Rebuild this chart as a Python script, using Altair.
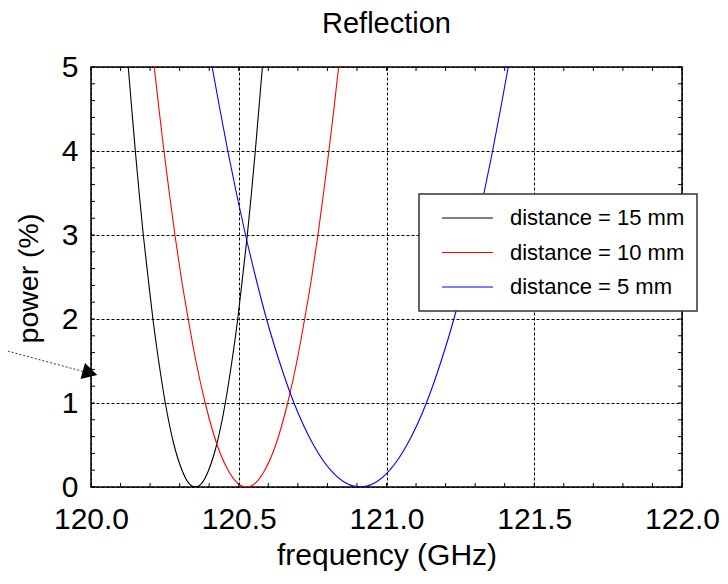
import altair as alt
import pandas as pd

FONT = "Liberation Sans"

# power levels (%), left branch -> minimum -> right branch
power = [5, 4.5, 4, 3.5, 3, 2.5, 2, 1.5, 1, 0.5, 0.2, 0.05, 0,
         0.05, 0.2, 0.5, 1, 1.5, 2, 2.5, 3, 3.5, 4, 4.5, 5]

freq_15mm = [120.126, 120.138, 120.150, 120.163, 120.177, 120.193, 120.2095, 120.229, 120.2515,
             120.281, 120.308, 120.330, 120.353,
             120.376, 120.398, 120.425, 120.4545, 120.477, 120.4965, 120.513, 120.529,
             120.543, 120.556, 120.568, 120.580]
freq_10mm = [120.214, 120.230, 120.247, 120.265, 120.284, 120.305, 120.329, 120.355, 120.3865,
             120.427, 120.464, 120.495, 120.526,
             120.557, 120.588, 120.625, 120.6655, 120.697, 120.723, 120.747, 120.768,
             120.787, 120.805, 120.822, 120.838]
freq_5mm = [120.410, 120.436, 120.463, 120.492, 120.523, 120.557, 120.594, 120.637, 120.687,
            120.753, 120.811, 120.861, 120.911,
            120.961, 121.011, 121.069, 121.135, 121.185, 121.228, 121.265, 121.299,
            121.330, 121.359, 121.386, 121.412]

series_names = ["distance = 15 mm", "distance = 10 mm", "distance = 5 mm"]
series_colors = ["#000000", "#ff0000", "#0000ff"]
series_freqs = [freq_15mm, freq_10mm, freq_5mm]

x_ticks = [120.0, 120.5, 121.0, 121.5, 122.0]
y_ticks = [0, 1, 2, 3, 4, 5]
x_minor = [round(120.0 + 0.1 * i, 1) for i in range(21)]
y_minor = [round(0.2 * i, 1) for i in range(26)]

rows = []
for name, fr in zip(series_names, series_freqs):
    for f, p in zip(fr, power):
        rows.append({"freq": f, "power": p, "series": name})
df = pd.DataFrame(rows)

W, H = 591, 420
xscale = alt.Scale(domain=[120, 122], nice=False, zero=False)
yscale = alt.Scale(domain=[0, 5], nice=False)

curves = alt.Chart(df).mark_line(interpolate="monotone", strokeWidth=1.1, clip=True).encode(
    x=alt.X("freq:Q", scale=xscale,
            axis=alt.Axis(values=x_ticks, format=".1f", title="frequency (GHz)",
                          grid=True, gridDash=[3, 2], gridColor="#000000", gridWidth=1,
                          ticks=False, domain=False, labelFlush=False, labelOverlap=False,
                          labelFontSize=30, labelPadding=17, labelColor="#000000",
                          titleFontSize=30, titleFontWeight="normal", titleColor="#000000",
                          titleX=W / 2, titleY=68, titleBaseline="middle")),
    y=alt.Y("power:Q", scale=yscale,
            axis=alt.Axis(values=y_ticks, format="d", title="power (%)",
                          grid=True, gridDash=[3, 2], gridColor="#000000", gridWidth=1,
                          ticks=False, domain=False, labelFlush=False, labelOverlap=False,
                          labelFontSize=30, labelPadding=13, labelColor="#000000",
                          titleFontSize=28.5, titleFontWeight="normal", titleColor="#000000",
                          titleX=-54, titleY=H / 2 + 1, titleAngle=270,
                          titleBaseline="alphabetic")),
    color=alt.Color("series:N", scale=alt.Scale(domain=series_names, range=series_colors), legend=None),
    detail="series:N",
)

xt = pd.DataFrame({"freq": x_minor})
yt = pd.DataFrame({"power": y_minor})
tick_bottom = alt.Chart(xt).mark_rule(color="#000000", strokeWidth=1).encode(
    x=alt.X("freq:Q", scale=xscale), y=alt.value(H - 4), y2=alt.value(H))
tick_top = alt.Chart(xt).mark_rule(color="#000000", strokeWidth=1).encode(
    x=alt.X("freq:Q", scale=xscale), y=alt.value(0), y2=alt.value(4))
tick_left = alt.Chart(yt).mark_rule(color="#000000", strokeWidth=1).encode(
    y=alt.Y("power:Q", scale=yscale), x=alt.value(0), x2=alt.value(4))
tick_right = alt.Chart(yt).mark_rule(color="#000000", strokeWidth=1).encode(
    y=alt.Y("power:Q", scale=yscale), x=alt.value(W - 4), x2=alt.value(W))

one = pd.DataFrame({"k": [0]})

# legend box (drawn by hand so it can overhang the plot like the original)
LX0, LX1, LY0, LY1 = 328, 606, 127, 244
legend_layers = [
    alt.Chart(one).mark_rect(fill="#ffffff", stroke="#333333", strokeWidth=1.5).encode(
        x=alt.value(LX0), x2=alt.value(LX1), y=alt.value(LY0), y2=alt.value(LY1))
]
for i, (name, col) in enumerate(zip(series_names, series_colors)):
    ry = 151 + i * 34.5
    legend_layers.append(
        alt.Chart(one).mark_rule(color=col, strokeWidth=1.1).encode(
            x=alt.value(351), x2=alt.value(402), y=alt.value(ry), y2=alt.value(ry)))
    legend_layers.append(
        alt.Chart(one).mark_text(align="left", baseline="middle", fontSize=22, font=FONT,
                                 color="#000000", text=name).encode(
            x=alt.value(419), y=alt.value(ry)))

# stray dotted arrow at the left
arrow_line = alt.Chart(one).mark_rule(color="#333333", strokeWidth=1, strokeDash=[2, 2]).encode(
    x=alt.value(-91), x2=alt.value(-6), y=alt.value(282), y2=alt.value(305))
arrow_head = alt.Chart(one).mark_point(shape="M1,0L-1,-1.1L-1,1.1Z", filled=True, color="#000000",
                                       size=225, angle=15.6, opacity=1).encode(
    x=alt.value(-1), y=alt.value(306))

chart = alt.layer(
    curves, tick_bottom, tick_top, tick_left, tick_right, *legend_layers, arrow_line, arrow_head
).properties(
    width=W, height=H,
    title=alt.TitleParams("Reflection", fontSize=29, font=FONT, fontWeight="normal",
                          anchor="middle", color="#000000", offset=13),
    padding={"left": 83, "top": 59, "right": 38, "bottom": 89},
    autosize=alt.AutoSizeParams(type="none"),
).configure(font=FONT).configure_axis(
    labelFont=FONT, titleFont=FONT
).configure_view(stroke="#000000", strokeWidth=1.5)

chart.save("out.html", embed_options={"renderer": "svg", "actions": False})
